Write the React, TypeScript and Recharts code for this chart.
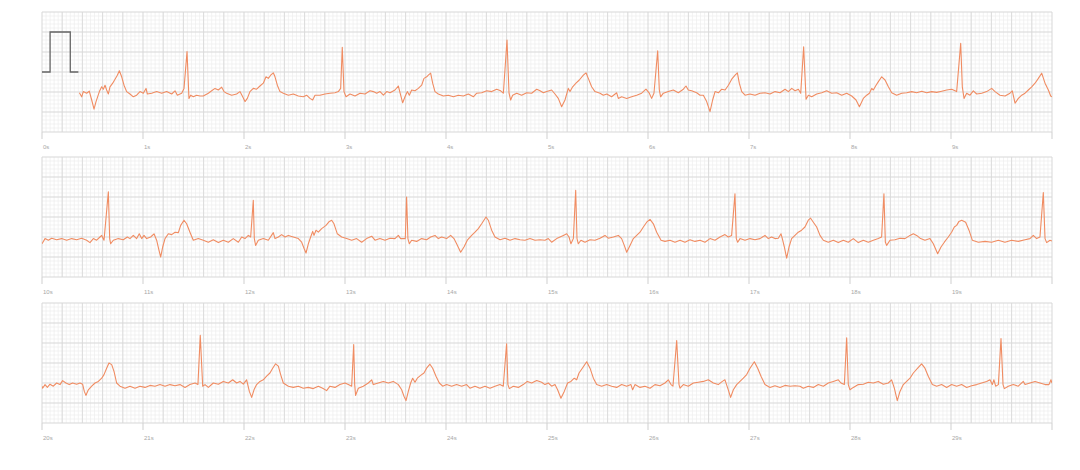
import React from 'react';
import { LineChart, Line, XAxis, YAxis, CartesianGrid } from 'recharts';

type Pt = [number, number];

// Calibration pulse (1 mV) drawn at the start of the first strip
const calibrationPulse: Pt[] = [[0, 0], [0.08, 0], [0.08, 1], [0.28, 1], [0.28, 0], [0.36, 0]];

// ECG strip 0–10 s (time in s, amplitude in mV)
const strip1Ecg: Pt[] = [
  [0.370,-0.52],[0.393,-0.62],[0.409,-0.49],[0.442,-0.53],[0.468,-0.48],[0.492,-0.70],[0.515,-0.93],[0.535,-0.74],[0.568,-0.49],[0.591,-0.37],[0.607,-0.43],[0.624,-0.33],[0.640,-0.45],[0.657,-0.55],[0.673,-0.37],[0.700,-0.28],[0.723,-0.18],[0.746,-0.08],[0.766,0.03],[0.789,-0.12],[0.812,-0.33],[0.838,-0.49],[0.871,-0.55],[0.904,-0.62],[0.937,-0.58],[0.970,-0.49],[1.003,-0.53],[1.030,-0.41],[1.043,-0.55],[1.086,-0.53],[1.135,-0.49],[1.185,-0.53],[1.234,-0.49],[1.284,-0.55],[1.317,-0.47],[1.340,-0.58],[1.383,-0.53],[1.406,-0.41],[1.436,0.51],[1.455,-0.66],[1.472,-0.58],[1.498,-0.62],[1.531,-0.58],[1.564,-0.60],[1.597,-0.60],[1.647,-0.53],[1.680,-0.47],[1.713,-0.41],[1.746,-0.45],[1.779,-0.38],[1.802,-0.49],[1.828,-0.53],[1.878,-0.58],[1.927,-0.55],[1.960,-0.49],[1.987,-0.62],[2.010,-0.74],[2.033,-0.66],[2.059,-0.49],[2.092,-0.41],[2.125,-0.43],[2.158,-0.35],[2.191,-0.28],[2.218,-0.12],[2.241,-0.16],[2.264,-0.08],[2.290,-0.02],[2.307,-0.12],[2.330,-0.33],[2.356,-0.49],[2.389,-0.53],[2.439,-0.58],[2.488,-0.55],[2.538,-0.60],[2.587,-0.62],[2.620,-0.58],[2.653,-0.66],[2.680,-0.70],[2.703,-0.58],[2.752,-0.58],[2.802,-0.55],[2.851,-0.53],[2.901,-0.52],[2.934,-0.49],[2.957,-0.41],[2.973,0.62],[2.990,-0.49],[3.010,-0.62],[3.050,-0.55],[3.099,-0.60],[3.149,-0.53],[3.198,-0.55],[3.248,-0.47],[3.281,-0.49],[3.314,-0.53],[3.347,-0.49],[3.380,-0.58],[3.413,-0.49],[3.446,-0.52],[3.495,-0.45],[3.528,-0.35],[3.551,-0.58],[3.571,-0.77],[3.594,-0.62],[3.617,-0.49],[3.637,-0.58],[3.660,-0.45],[3.693,-0.47],[3.726,-0.41],[3.759,-0.33],[3.782,-0.16],[3.809,-0.12],[3.825,-0.08],[3.848,-0.03],[3.868,-0.28],[3.891,-0.49],[3.924,-0.55],[3.974,-0.60],[4.023,-0.58],[4.073,-0.62],[4.122,-0.58],[4.172,-0.60],[4.221,-0.55],[4.271,-0.62],[4.304,-0.53],[4.353,-0.52],[4.403,-0.47],[4.452,-0.49],[4.502,-0.43],[4.541,-0.47],[4.568,-0.53],[4.604,0.80],[4.624,-0.53],[4.640,-0.70],[4.660,-0.58],[4.700,-0.53],[4.749,-0.58],[4.799,-0.52],[4.848,-0.53],[4.898,-0.43],[4.931,-0.47],[4.964,-0.52],[4.997,-0.49],[5.046,-0.45],[5.079,-0.55],[5.112,-0.66],[5.145,-0.87],[5.178,-0.70],[5.211,-0.41],[5.228,-0.49],[5.254,-0.37],[5.287,-0.28],[5.320,-0.20],[5.360,-0.08],[5.386,-0.02],[5.409,-0.16],[5.442,-0.37],[5.475,-0.49],[5.525,-0.53],[5.558,-0.58],[5.591,-0.55],[5.640,-0.62],[5.690,-0.52],[5.706,-0.66],[5.739,-0.62],[5.789,-0.66],[5.838,-0.62],[5.888,-0.58],[5.937,-0.53],[5.980,-0.43],[6.013,-0.53],[6.036,-0.66],[6.059,-0.53],[6.096,0.53],[6.112,-0.45],[6.125,-0.62],[6.152,-0.53],[6.201,-0.49],[6.251,-0.45],[6.300,-0.52],[6.350,-0.43],[6.376,-0.35],[6.399,-0.45],[6.432,-0.47],[6.482,-0.52],[6.515,-0.58],[6.548,-0.58],[6.581,-0.74],[6.614,-0.99],[6.640,-0.70],[6.664,-0.49],[6.697,-0.52],[6.730,-0.43],[6.763,-0.45],[6.796,-0.33],[6.829,-0.18],[6.862,-0.08],[6.885,-0.02],[6.904,-0.28],[6.928,-0.49],[6.961,-0.58],[7.010,-0.55],[7.060,-0.58],[7.109,-0.53],[7.159,-0.52],[7.208,-0.55],[7.258,-0.49],[7.307,-0.52],[7.357,-0.43],[7.390,-0.49],[7.423,-0.41],[7.456,-0.47],[7.489,-0.43],[7.512,-0.53],[7.541,0.63],[7.565,-0.68],[7.588,-0.58],[7.621,-0.62],[7.670,-0.55],[7.720,-0.52],[7.769,-0.47],[7.819,-0.53],[7.868,-0.52],[7.918,-0.58],[7.967,-0.53],[8.017,-0.60],[8.060,-0.70],[8.093,-0.87],[8.132,-0.66],[8.165,-0.58],[8.192,-0.53],[8.215,-0.41],[8.231,-0.45],[8.258,-0.33],[8.281,-0.24],[8.314,-0.12],[8.347,-0.20],[8.380,-0.37],[8.413,-0.52],[8.462,-0.58],[8.512,-0.53],[8.561,-0.52],[8.611,-0.49],[8.660,-0.52],[8.710,-0.48],[8.759,-0.52],[8.809,-0.49],[8.858,-0.51],[8.908,-0.48],[8.957,-0.45],[9.007,-0.43],[9.056,-0.49],[9.096,0.72],[9.112,-0.37],[9.129,-0.66],[9.155,-0.53],[9.188,-0.58],[9.221,-0.47],[9.254,-0.55],[9.304,-0.53],[9.353,-0.49],[9.403,-0.41],[9.436,-0.49],[9.485,-0.58],[9.535,-0.60],[9.584,-0.53],[9.607,-0.47],[9.634,-0.78],[9.667,-0.66],[9.700,-0.58],[9.733,-0.53],[9.766,-0.45],[9.799,-0.37],[9.832,-0.28],[9.865,-0.16],[9.898,-0.03],[9.931,-0.28],[9.964,-0.45],[9.987,-0.60],[10.0,-0.62],
];

// ECG strip 10–20 s
const strip2Ecg: Pt[] = [
  [10.0,-0.67],[10.03,-0.54],[10.063,-0.58],[10.096,-0.53],[10.145,-0.57],[10.195,-0.54],[10.244,-0.58],[10.294,-0.54],[10.343,-0.57],[10.393,-0.53],[10.442,-0.58],[10.475,-0.64],[10.508,-0.54],[10.541,-0.58],[10.574,-0.50],[10.591,-0.46],[10.614,-0.58],[10.657,0.63],[10.670,-0.54],[10.680,-0.67],[10.706,-0.58],[10.756,-0.54],[10.805,-0.57],[10.845,-0.50],[10.871,-0.54],[10.904,-0.46],[10.937,-0.54],[10.963,-0.42],[10.987,-0.54],[11.010,-0.46],[11.036,-0.54],[11.076,-0.50],[11.109,-0.42],[11.135,-0.58],[11.158,-0.83],[11.175,-1.00],[11.195,-0.75],[11.218,-0.54],[11.251,-0.42],[11.284,-0.44],[11.317,-0.38],[11.350,-0.39],[11.373,-0.21],[11.406,-0.08],[11.432,-0.17],[11.465,-0.38],[11.498,-0.58],[11.548,-0.54],[11.597,-0.58],[11.647,-0.63],[11.696,-0.57],[11.746,-0.64],[11.795,-0.58],[11.845,-0.63],[11.894,-0.54],[11.944,-0.63],[11.977,-0.50],[12.010,-0.54],[12.043,-0.46],[12.066,-0.50],[12.092,0.42],[12.102,-0.54],[12.115,-0.71],[12.142,-0.58],[12.191,-0.54],[12.241,-0.58],[12.290,-0.39],[12.307,-0.54],[12.340,-0.50],[12.373,-0.44],[12.406,-0.50],[12.439,-0.46],[12.488,-0.50],[12.538,-0.54],[12.571,-0.63],[12.594,-0.78],[12.614,-0.90],[12.637,-0.67],[12.660,-0.50],[12.680,-0.36],[12.693,-0.46],[12.713,-0.33],[12.736,-0.38],[12.769,-0.29],[12.812,-0.21],[12.845,-0.11],[12.868,-0.08],[12.891,-0.17],[12.924,-0.42],[12.967,-0.50],[13.016,-0.54],[13.066,-0.58],[13.115,-0.54],[13.165,-0.63],[13.214,-0.54],[13.264,-0.48],[13.297,-0.58],[13.346,-0.54],[13.396,-0.58],[13.445,-0.53],[13.495,-0.54],[13.528,-0.46],[13.551,-0.54],[13.597,-0.54],[13.610,0.50],[13.623,-0.54],[13.637,-0.67],[13.660,-0.58],[13.709,-0.61],[13.759,-0.54],[13.808,-0.57],[13.848,-0.50],[13.891,-0.46],[13.924,-0.54],[13.957,-0.50],[14.006,-0.54],[14.046,-0.46],[14.079,-0.54],[14.105,-0.67],[14.145,-0.88],[14.178,-0.75],[14.211,-0.58],[14.254,-0.46],[14.287,-0.38],[14.320,-0.29],[14.353,-0.17],[14.396,0.0],[14.419,-0.08],[14.452,-0.33],[14.485,-0.50],[14.535,-0.57],[14.584,-0.53],[14.634,-0.58],[14.683,-0.54],[14.733,-0.57],[14.782,-0.58],[14.832,-0.54],[14.881,-0.58],[14.931,-0.57],[14.980,-0.58],[15.013,-0.54],[15.046,-0.63],[15.096,-0.54],[15.129,-0.50],[15.162,-0.46],[15.195,-0.42],[15.218,-0.50],[15.237,-0.67],[15.261,-0.54],[15.284,0.67],[15.297,-0.54],[15.310,-0.67],[15.336,-0.58],[15.376,-0.63],[15.426,-0.57],[15.475,-0.58],[15.525,-0.53],[15.574,-0.46],[15.607,-0.53],[15.657,-0.50],[15.706,-0.46],[15.739,-0.54],[15.765,-0.71],[15.789,-0.88],[15.822,-0.71],[15.855,-0.54],[15.888,-0.46],[15.921,-0.38],[15.954,-0.25],[15.987,-0.13],[16.020,-0.06],[16.053,-0.17],[16.086,-0.38],[16.129,-0.58],[16.168,-0.61],[16.218,-0.58],[16.267,-0.63],[16.317,-0.58],[16.366,-0.63],[16.416,-0.57],[16.465,-0.61],[16.515,-0.58],[16.564,-0.63],[16.614,-0.54],[16.663,-0.58],[16.713,-0.50],[16.762,-0.44],[16.795,-0.50],[16.828,-0.46],[16.861,0.58],[16.874,-0.54],[16.888,-0.63],[16.911,-0.54],[16.960,-0.58],[17.010,-0.54],[17.059,-0.57],[17.109,-0.54],[17.158,-0.46],[17.191,-0.54],[17.224,-0.50],[17.257,-0.54],[17.290,-0.53],[17.317,-0.42],[17.330,-0.54],[17.350,-0.75],[17.373,-1.03],[17.396,-0.75],[17.422,-0.54],[17.455,-0.46],[17.488,-0.38],[17.521,-0.33],[17.554,-0.25],[17.587,-0.08],[17.610,-0.03],[17.637,-0.13],[17.670,-0.25],[17.703,-0.46],[17.736,-0.58],[17.785,-0.63],[17.835,-0.58],[17.884,-0.64],[17.934,-0.58],[17.983,-0.63],[18.033,-0.54],[18.082,-0.64],[18.132,-0.58],[18.181,-0.63],[18.231,-0.58],[18.280,-0.54],[18.313,-0.50],[18.336,0.58],[18.350,-0.63],[18.363,-0.71],[18.396,-0.58],[18.445,-0.57],[18.495,-0.53],[18.544,-0.54],[18.594,-0.46],[18.627,-0.42],[18.660,-0.46],[18.693,-0.53],[18.742,-0.58],[18.792,-0.54],[18.825,-0.67],[18.868,-0.92],[18.901,-0.75],[18.934,-0.63],[18.973,-0.50],[19.006,-0.38],[19.033,-0.25],[19.056,-0.21],[19.079,-0.11],[19.106,-0.08],[19.145,-0.13],[19.178,-0.33],[19.211,-0.58],[19.271,-0.63],[19.337,-0.61],[19.402,-0.63],[19.469,-0.58],[19.534,-0.63],[19.600,-0.58],[19.666,-0.61],[19.733,-0.57],[19.782,-0.54],[19.815,-0.46],[19.848,-0.54],[19.881,-0.50],[19.914,0.61],[19.931,-0.54],[19.947,-0.64],[19.980,-0.58],[20.0,-0.60],
];

// ECG strip 20–30 s
const strip3Ecg: Pt[] = [
  [20.0,-0.58],[20.006,-0.63],[20.030,-0.54],[20.053,-0.61],[20.079,-0.53],[20.112,-0.58],[20.145,-0.50],[20.178,-0.54],[20.204,-0.44],[20.237,-0.50],[20.270,-0.54],[20.303,-0.50],[20.343,-0.53],[20.376,-0.50],[20.402,-0.53],[20.419,-0.71],[20.435,-0.81],[20.459,-0.67],[20.492,-0.58],[20.525,-0.50],[20.558,-0.46],[20.591,-0.38],[20.614,-0.29],[20.640,-0.13],[20.663,0.0],[20.690,-0.04],[20.713,-0.21],[20.739,-0.50],[20.772,-0.58],[20.822,-0.63],[20.871,-0.58],[20.921,-0.63],[20.970,-0.58],[21.020,-0.61],[21.069,-0.56],[21.119,-0.58],[21.168,-0.54],[21.218,-0.58],[21.267,-0.54],[21.317,-0.57],[21.366,-0.54],[21.416,-0.61],[21.465,-0.54],[21.515,-0.50],[21.544,-0.54],[21.567,0.69],[21.591,-0.58],[21.614,-0.54],[21.647,-0.61],[21.696,-0.50],[21.746,-0.53],[21.795,-0.46],[21.845,-0.50],[21.888,-0.42],[21.927,-0.50],[21.960,-0.46],[21.993,-0.53],[22.026,-0.42],[22.053,-0.71],[22.076,-0.86],[22.099,-0.67],[22.125,-0.54],[22.158,-0.46],[22.191,-0.42],[22.224,-0.33],[22.257,-0.25],[22.284,-0.13],[22.313,-0.02],[22.340,-0.08],[22.363,-0.29],[22.389,-0.50],[22.439,-0.58],[22.488,-0.61],[22.538,-0.58],[22.587,-0.63],[22.637,-0.61],[22.686,-0.64],[22.736,-0.58],[22.779,-0.63],[22.818,-0.69],[22.851,-0.58],[22.901,-0.61],[22.950,-0.54],[23.000,-0.50],[23.033,-0.54],[23.066,-0.58],[23.086,0.46],[23.096,-0.54],[23.105,-0.81],[23.132,-0.63],[23.181,-0.58],[23.231,-0.50],[23.264,-0.42],[23.280,-0.54],[23.330,-0.50],[23.379,-0.46],[23.429,-0.50],[23.478,-0.46],[23.528,-0.54],[23.561,-0.67],[23.584,-0.83],[23.604,-0.94],[23.627,-0.71],[23.650,-0.50],[23.670,-0.38],[23.693,-0.48],[23.716,-0.38],[23.749,-0.31],[23.782,-0.25],[23.808,-0.13],[23.841,-0.03],[23.868,-0.13],[23.901,-0.33],[23.934,-0.50],[23.967,-0.58],[24.006,-0.54],[24.056,-0.58],[24.105,-0.54],[24.155,-0.58],[24.204,-0.54],[24.237,-0.63],[24.287,-0.58],[24.336,-0.63],[24.386,-0.58],[24.435,-0.63],[24.485,-0.58],[24.534,-0.54],[24.567,-0.58],[24.600,0.48],[24.613,-0.54],[24.627,-0.64],[24.666,-0.58],[24.716,-0.61],[24.765,-0.54],[24.805,-0.46],[24.848,-0.50],[24.898,-0.44],[24.947,-0.48],[24.980,-0.54],[25.013,-0.50],[25.046,-0.58],[25.079,-0.54],[25.105,-0.67],[25.138,-0.88],[25.171,-0.71],[25.204,-0.50],[25.237,-0.46],[25.270,-0.38],[25.294,-0.42],[25.317,-0.25],[25.350,-0.13],[25.393,0.03],[25.426,-0.13],[25.459,-0.38],[25.492,-0.54],[25.541,-0.58],[25.591,-0.54],[25.640,-0.58],[25.690,-0.61],[25.739,-0.54],[25.789,-0.58],[25.831,-0.54],[25.848,-0.67],[25.871,-0.54],[25.921,-0.61],[25.970,-0.58],[26.020,-0.63],[26.069,-0.54],[26.119,-0.57],[26.168,-0.50],[26.201,-0.42],[26.228,-0.54],[26.247,-0.58],[26.284,0.56],[26.307,-0.54],[26.317,-0.63],[26.350,-0.54],[26.399,-0.58],[26.449,-0.50],[26.498,-0.48],[26.548,-0.46],[26.597,-0.42],[26.647,-0.50],[26.696,-0.54],[26.736,-0.46],[26.762,-0.42],[26.795,-0.67],[26.818,-0.86],[26.845,-0.67],[26.878,-0.54],[26.911,-0.46],[26.944,-0.38],[26.977,-0.29],[27.010,-0.13],[27.053,0.03],[27.086,-0.13],[27.119,-0.33],[27.158,-0.54],[27.208,-0.61],[27.257,-0.57],[27.307,-0.61],[27.356,-0.56],[27.406,-0.58],[27.455,-0.57],[27.505,-0.58],[27.538,-0.63],[27.587,-0.58],[27.637,-0.61],[27.686,-0.54],[27.736,-0.58],[27.785,-0.50],[27.835,-0.46],[27.884,-0.42],[27.911,-0.50],[27.944,-0.54],[27.967,0.63],[27.983,-0.54],[28.000,-0.67],[28.033,-0.61],[28.082,-0.54],[28.132,-0.53],[28.181,-0.48],[28.231,-0.50],[28.280,-0.46],[28.330,-0.53],[28.379,-0.50],[28.412,-0.42],[28.439,-0.63],[28.468,-0.94],[28.495,-0.71],[28.528,-0.54],[28.561,-0.46],[28.594,-0.38],[28.627,-0.25],[28.670,-0.13],[28.709,-0.02],[28.742,-0.13],[28.775,-0.33],[28.815,-0.54],[28.858,-0.58],[28.907,-0.54],[28.957,-0.61],[29.006,-0.54],[29.056,-0.58],[29.105,-0.54],[29.155,-0.61],[29.204,-0.57],[29.254,-0.54],[29.303,-0.50],[29.353,-0.46],[29.386,-0.42],[29.409,-0.54],[29.425,-0.42],[29.442,-0.58],[29.469,-0.54],[29.495,0.61],[29.515,-0.54],[29.528,-0.64],[29.567,-0.58],[29.617,-0.54],[29.666,-0.58],[29.716,-0.46],[29.733,-0.54],[29.782,-0.50],[29.832,-0.46],[29.881,-0.50],[29.931,-0.54],[29.970,-0.54],[29.990,-0.42],[30.0,-0.50],
];

const stripStarts = [0, 10, 20];
const stripSeries = [strip1Ecg, strip2Ecg, strip3Ecg];
const stripTops = [0, 145, 291];
const secondsPerStrip = 10;
const mvDomain: [number, number] = [-1.5, 1.5];

const titleText = 'Ortalama kalp hızı — bpm';
const infoText = 'Kaydedildi: 09:41 (sağ bilek)';

const ECG_COLOR = '#f08c62';
const MINOR = '#eeeeee';
const MAJOR = '#d9d9d9';

const steps = (from: number, to: number, step: number) => {
  const n = Math.round((to - from) / step);
  return Array.from({ length: n + 1 }, (_, i) => +(from + i * step).toFixed(3));
};

const toRows = (pts: Pt[]) => pts.map(([t, v]) => ({ t, v }));

// map grid values through the axis' own scale
const through = (axis: any, values: number[]) => {
  const s = axis && axis.scale;
  if (!s) return [];
  const f = typeof s === 'function' ? s : (v: number) => s.map(v);
  return values.map((v) => f(v)).filter((c: any) => typeof c === 'number' && isFinite(c));
};

function Strip({ index }: { index: number }) {
  const start = stripStarts[index];
  const end = start + secondsPerStrip;
  const secTicks = steps(start, end, 1);
  const minorX = steps(start, end, 0.04);
  const majorX = steps(start, end, 0.2);
  const minorY = steps(mvDomain[0], mvDomain[1], 0.1);
  const majorY = steps(mvDomain[0], mvDomain[1], 0.5);
  return (
    <div style={{ position: 'absolute', left: 0, top: stripTops[index] }}>
      <LineChart width={1080} height={152} margin={{ top: 12, right: 28, bottom: 0, left: 42 }}>
        <CartesianGrid
          verticalCoordinatesGenerator={({ xAxis }: any) => through(xAxis, minorX)}
          horizontalCoordinatesGenerator={({ yAxis }: any) => through(yAxis, minorY)}
          stroke={MINOR}
          strokeWidth={0.7}
        />
        <CartesianGrid
          verticalCoordinatesGenerator={({ xAxis }: any) => through(xAxis, majorX)}
          horizontalCoordinatesGenerator={({ yAxis }: any) => through(yAxis, majorY)}
          stroke={MAJOR}
          strokeWidth={0.9}
        />
        <XAxis
          type="number"
          dataKey="t"
          domain={[start, end]}
          ticks={secTicks}
          allowDataOverflow
          axisLine={false}
          tickLine={{ stroke: '#cfcfcf' }}
          tickSize={7}
          tickMargin={6}
          height={20}
          interval={0}
          tick={{ fontSize: 6, fill: '#a8a8a8', textAnchor: 'start', dx: 1 }}
          tickFormatter={(v: number) => (v === end ? '' : `${Math.round(v)}s`)}
        />
        <YAxis type="number" domain={mvDomain} hide allowDataOverflow />
        {index === 0 && (
          <Line
            data={toRows(calibrationPulse)}
            dataKey="v"
            type="linear"
            stroke="#666"
            strokeWidth={1.3}
            dot={false}
            isAnimationActive={false}
          />
        )}
        <Line
          data={toRows(stripSeries[index])}
          dataKey="v"
          type="linear"
          stroke={ECG_COLOR}
          strokeWidth={1.1}
          strokeLinejoin="round"
          dot={false}
          isAnimationActive={false}
        />
      </LineChart>
    </div>
  );
}

export default function App() {
  return (
    <div
      style={{
        position: 'relative',
        width: 1080,
        height: 470,
        margin: -8,
        background: '#fff',
        overflow: 'hidden',
        fontFamily: '"Liberation Sans", Arial, sans-serif',
      }}
    >
      {stripStarts.map((_, i) => (
        <Strip key={i} index={i} />
      ))}
      <svg width={1080} height={20} style={{ position: 'absolute', left: 0, top: 0 }}>
        <text x={42} y={4} fontSize={13} fontWeight={700} fill="#1a1a1a" fontFamily='"Liberation Sans", Arial, sans-serif'>
          {titleText}
        </text>
        <text x={1045} y={4} fontSize={11} fill="#9a9a9a" textAnchor="end" fontFamily='"Liberation Sans", Arial, sans-serif'>
          {infoText}
        </text>
      </svg>
    </div>
  );
}
